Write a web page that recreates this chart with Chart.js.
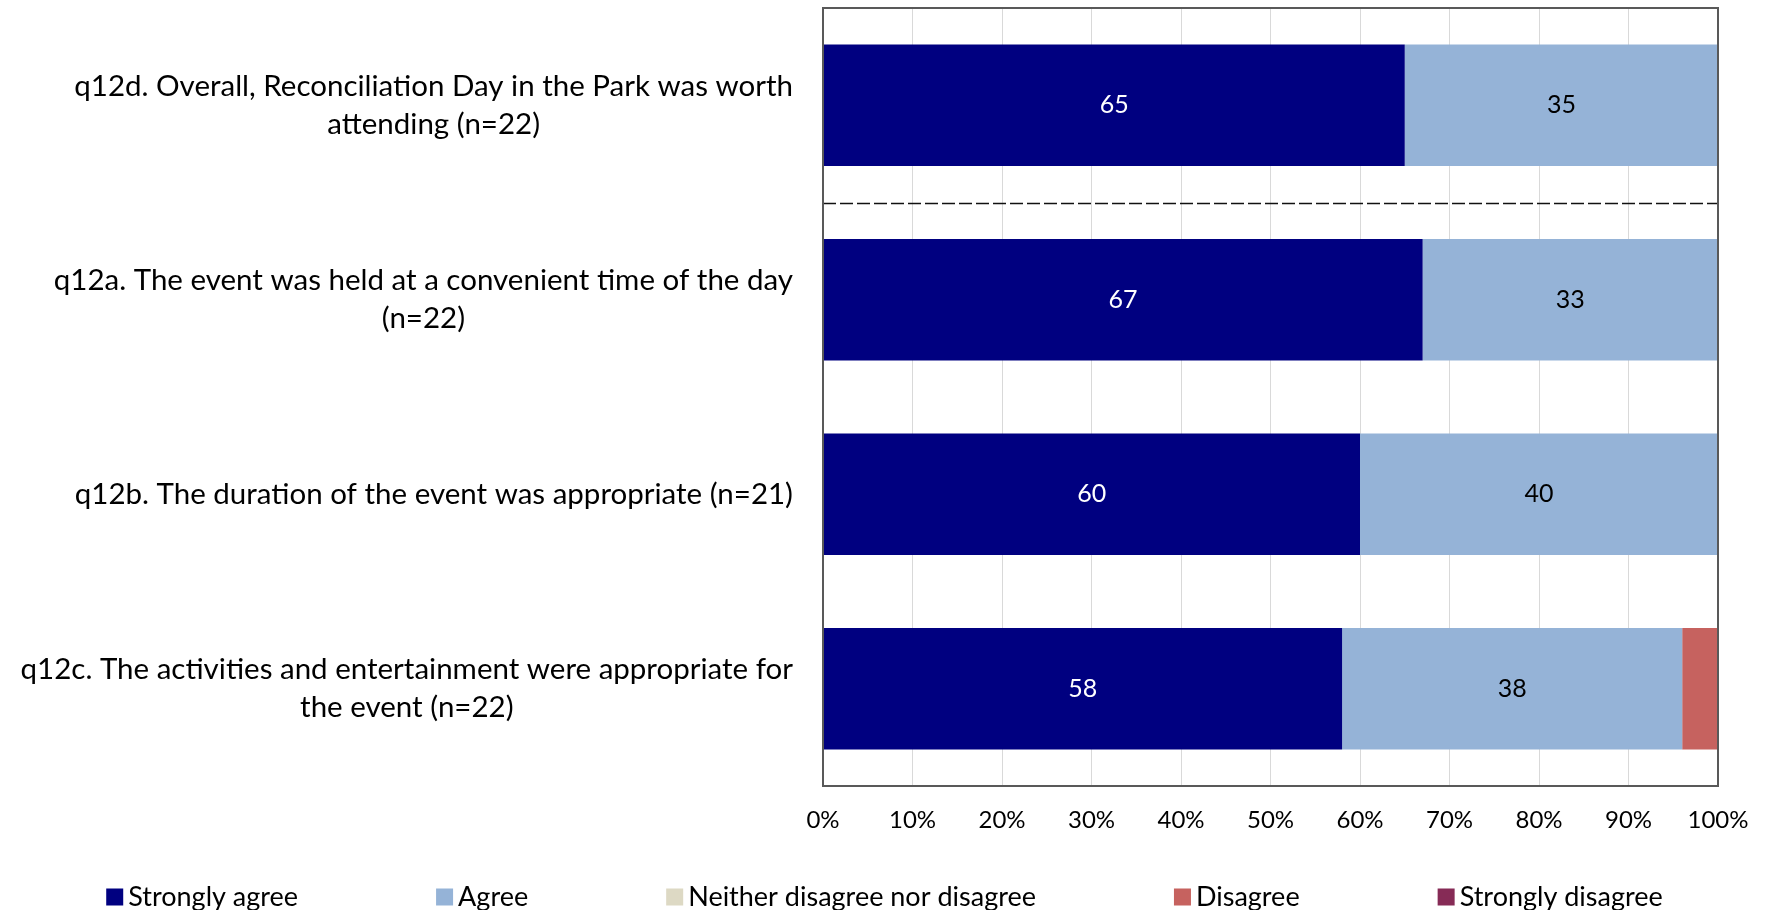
<!DOCTYPE html>
<html>
<head>
<meta charset="utf-8">
<script src="https://cdn.jsdelivr.net/npm/chart.js@4.4.0/dist/chart.umd.min.js"></script>
<style>
  html, body { margin: 0; padding: 0; background: #fff; }
  #wrap { width: 1769px; height: 910px; }
</style>
</head>
<body>
<div id="wrap"><canvas id="chart" width="1769" height="910"></canvas></div>
<script>
// данные
const categories = [
  ['q12d. Overall, Reconciliation Day in the Park was worth', 'attending (n=22)'],
  ['q12a. The event was held at a convenient time of the day', '(n=22)'],
  ['q12b. The duration of the event was appropriate (n=21)'],
  ['q12c. The activities and entertainment were appropriate for', 'the event (n=22)']
];
const seriesNames = ['Strongly agree', 'Agree', 'Neither disagree nor disagree', 'Disagree', 'Strongly disagree'];
const stronglyAgree = [65, 67, 60, 58];
const agree = [35, 33, 40, 38];
const neither = [0, 0, 0, 0];
const disagree = [0, 0, 0, 4];
const stronglyDisagree = [0, 0, 0, 0];
const xTicks = [0, 10, 20, 30, 40, 50, 60, 70, 80, 90, 100];

const colors = ['#000080', '#95B3D7', '#DDD9C4', '#C6625F', '#862B56'];
const labelColors = ['#ffffff', '#000000'];
const FONT = 'Lato, "Open Sans", sans-serif';

// подписи значений внутри столбцов
const barLabels = {
  id: 'barLabels',
  afterDatasetsDraw(chart) {
    const ctx = chart.ctx;
    ctx.save();
    ctx.font = '25px ' + FONT;
    ctx.textAlign = 'center';
    ctx.textBaseline = 'middle';
    [0, 1].forEach(di => {
      const meta = chart.getDatasetMeta(di);
      meta.data.forEach((el, i) => {
        const v = chart.data.datasets[di].data[i];
        if (v < 5) return;
        ctx.fillStyle = labelColors[di];
        ctx.fillText(String(v), (el.x + el.base) / 2, el.y);
      });
    });
    ctx.restore();
  }
};

// категории слева, строки по центру, блок прижат вправо
const catLabels = {
  id: 'catLabels',
  afterDraw(chart) {
    const ctx = chart.ctx;
    const y = chart.scales.y;
    const right = chart.chartArea.left - 30;
    const lh = 38;
    ctx.save();
    ctx.font = '29.5px ' + FONT;
    ctx.fillStyle = '#000';
    ctx.textAlign = 'center';
    ctx.textBaseline = 'middle';
    categories.forEach((lines, i) => {
      const cy = y.getPixelForValue(i);
      const w = Math.max(...lines.map(l => ctx.measureText(l).width));
      const cx = right - w / 2;
      lines.forEach((l, k) => {
        ctx.fillText(l, cx, cy + (k - (lines.length - 1) / 2) * lh);
      });
    });
    ctx.restore();
  }
};

// пунктир между первой категорией и остальными
const divider = {
  id: 'divider',
  afterDatasetsDraw(chart) {
    const ctx = chart.ctx;
    const y = chart.scales.y;
    const a = chart.chartArea;
    const py = Math.round((y.getPixelForValue(0) + y.getPixelForValue(1)) / 2) + 0.5;
    ctx.save();
    ctx.strokeStyle = '#111';
    ctx.lineWidth = 1.6;
    ctx.setLineDash([13, 4]);
    ctx.beginPath();
    ctx.moveTo(a.left, py);
    ctx.lineTo(a.right, py);
    ctx.stroke();
    ctx.restore();
  }
};

// рамка области построения
const frame = {
  id: 'frame',
  afterDraw(chart) {
    const a = chart.chartArea;
    const ctx = chart.ctx;
    ctx.save();
    ctx.strokeStyle = '#595959';
    ctx.lineWidth = 2;
    ctx.strokeRect(a.left, a.top, a.right - a.left, a.bottom - a.top);
    ctx.restore();
  }
};

// легенда внизу
const bottomLegend = {
  id: 'bottomLegend',
  afterDraw(chart) {
    const ctx = chart.ctx;
    const box = 17, gap = 5, spacing = 138;
    const yMid = 897;
    ctx.save();
    ctx.font = '27px ' + FONT;
    ctx.textBaseline = 'middle';
    ctx.textAlign = 'left';
    const widths = seriesNames.map(n => box + gap + ctx.measureText(n).width);
    const total = widths.reduce((s, w) => s + w, 0) + spacing * (widths.length - 1);
    let x = (chart.width - total) / 2;
    seriesNames.forEach((n, i) => {
      ctx.fillStyle = colors[i];
      ctx.fillRect(x, yMid - box / 2, box, box);
      ctx.fillStyle = '#000';
      ctx.fillText(n, x + box + gap, yMid);
      x += widths[i] + spacing;
    });
    ctx.restore();
  }
};

const seriesData = [stronglyAgree, agree, neither, disagree, stronglyDisagree];

new Chart(document.getElementById('chart'), {
  type: 'bar',
  data: {
    labels: categories,
    datasets: seriesNames.map((n, i) => ({
      label: n,
      data: seriesData[i],
      backgroundColor: colors[i],
      borderWidth: 0,
      barPercentage: 0.625,
      categoryPercentage: 1
    }))
  },
  options: {
    indexAxis: 'y',
    responsive: false,
    devicePixelRatio: 1,
    animation: false,
    layout: { padding: { top: 8, right: 51, bottom: 0, left: 0 } },
    plugins: {
      legend: { display: false },
      tooltip: { enabled: false }
    },
    scales: {
      x: {
        stacked: true,
        min: 0,
        max: 100,
        afterBuildTicks: s => { s.ticks = xTicks.map(v => ({ value: v })); },
        afterFit: s => { s.height = 124; },
        grid: { color: '#D9D9D9', drawTicks: false },
        border: { display: false },
        ticks: {
          padding: 20,
          color: '#000',
          font: { family: FONT, size: 24 },
          callback: v => v + '%'
        }
      },
      y: {
        stacked: true,
        afterFit: s => { s.width = 823; },
        grid: { display: false },
        border: { display: false },
        ticks: { display: false }
      }
    }
  },
  plugins: [barLabels, catLabels, divider, frame, bottomLegend]
});
</script>
</body>
</html>
